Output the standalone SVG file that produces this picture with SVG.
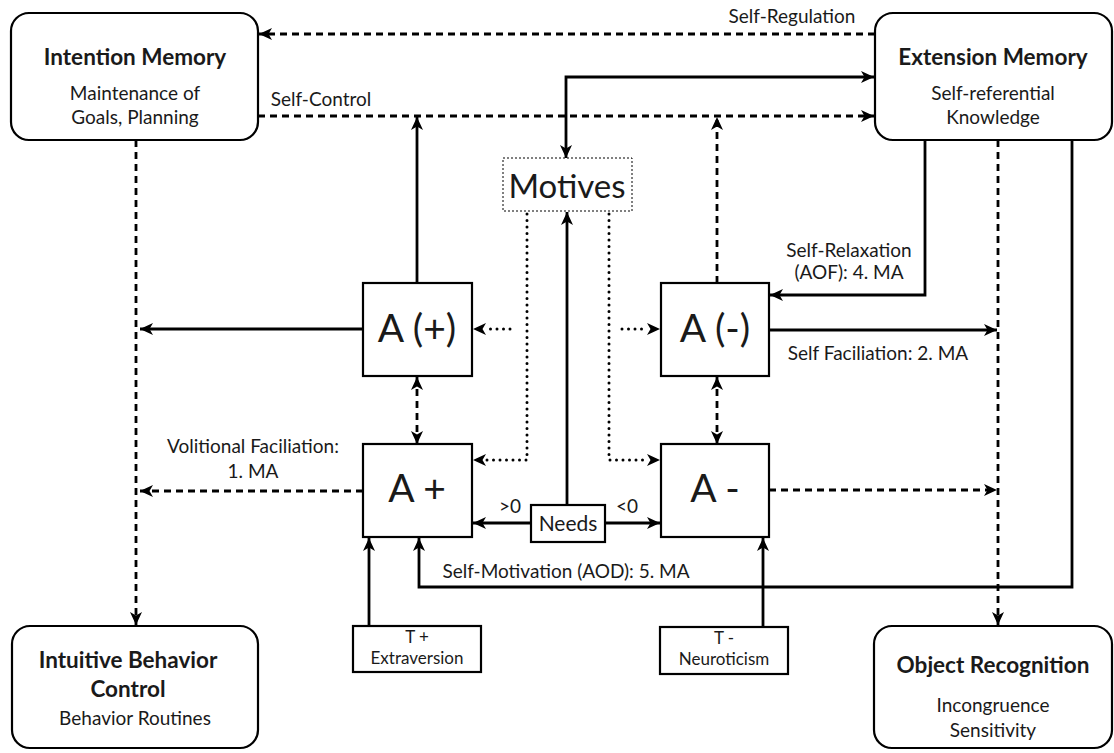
<svg xmlns="http://www.w3.org/2000/svg" width="1114" height="753" viewBox="0 0 1114 753">
<style>
text{font-family:Lato,"Open Sans","Liberation Sans",sans-serif;fill:#1a1a1a;text-anchor:middle}
.t{font-size:22.5px;font-weight:bold}
.s{font-size:19px}
.l{font-size:19px}
.tt{font-size:17px}
.big{font-size:39px}
.node{fill:#fff;stroke:#000;stroke-width:2.2}
.c{fill:none;stroke:#000;stroke-width:2.8}
.d{stroke-dasharray:7 5}
.o{stroke-dasharray:0 6.5;stroke-linecap:round;stroke-width:3}
.e{marker-end:url(#ah)}
.b{marker-start:url(#ahs);marker-end:url(#ah)}
</style>
<defs>
<marker id="ah" markerUnits="userSpaceOnUse" markerWidth="14" markerHeight="12" refX="13" refY="6" orient="auto"><path d="M0,0 L13,6 L0,12 L3.5,6 Z" fill="#000"/></marker>
<marker id="ahs" markerUnits="userSpaceOnUse" markerWidth="14" markerHeight="12" refX="13" refY="6" orient="auto-start-reverse"><path d="M0,0 L13,6 L0,12 L3.5,6 Z" fill="#000"/></marker>
</defs>
<rect width="1114" height="753" fill="#fff"/>

<g id="connectors">
<path class="c d e" d="M875,34 L259,34"/>
<path class="c d e" d="M258,116 L874,116"/>
<path class="c b" d="M566,158 L566,77 L874,77"/>
<path class="c e" d="M417,283 L417,117"/>
<path class="c d e" d="M717,283 L717,117"/>
<path class="c e" d="M363,329 L140,329"/>
<path class="c d e" d="M363,491 L140,491"/>
<path class="c e" d="M769,330 L997,330"/>
<path class="c d e" d="M769,490 L997,490"/>
<path class="c e" d="M925,140 L925,295 L770,295"/>
<path class="c d e" d="M998,140 L998,625"/>
<path class="c e" d="M1072,140 L1072,587 L419,587 L419,538"/>
<path class="c d e" d="M136,140 L136,625"/>
<path class="c d b" d="M417,377 L417,444"/>
<path class="c d b" d="M717,377 L717,444"/>
<path class="c e" d="M567,505 L567,212"/>
<path class="c e" d="M531,523 L473,523"/>
<path class="c e" d="M605,523 L660,523"/>
<path class="c e" d="M369,626 L369,538"/>
<path class="c e" d="M763,627 L763,538"/>
<path class="c o" d="M527,214 L527,460 L485,460"/>
<path class="c e" style="stroke:none" d="M485,460 L473,460"/>
<path class="c o" d="M510,329 L485,329"/>
<path class="c e" style="stroke:none" d="M485,329 L473,329"/>
<path class="c o" d="M609,214 L609,460 L648,460"/>
<path class="c e" style="stroke:none" d="M648,460 L660,460"/>
<path class="c o" d="M622,329 L648,329"/>
<path class="c e" style="stroke:none" d="M648,329 L660,329"/>
</g>

<g id="labels">
<text class="l" x="792" y="23">Self-Regulation</text>
<text class="l" x="321" y="106">Self-Control</text>
<text class="l" x="849" y="257">Self-Relaxation</text>
<text class="l" x="849" y="279">(AOF): 4. MA</text>
<text class="l" x="878" y="360">Self Faciliation: 2. MA</text>
<text class="l" x="253" y="453">Volitional Faciliation:</text>
<text class="l" x="253" y="478">1. MA</text>
<text class="l" x="566" y="578">Self-Motivation (AOD): 5. MA</text>
<text class="l" x="510" y="513">&gt;0</text>
<text class="l" x="627" y="513">&lt;0</text>
</g>

<g id="intention-memory">
<rect class="node" x="11" y="13" width="247" height="127" rx="18"/>
<text class="t" x="135" y="65">Intention Memory</text>
<text class="s" x="135" y="100">Maintenance of</text>
<text class="s" x="135" y="124">Goals, Planning</text>
</g>

<g id="extension-memory">
<rect class="node" x="875" y="13" width="237" height="127" rx="18"/>
<text class="t" x="993" y="65">Extension Memory</text>
<text class="s" x="993" y="100">Self-referential</text>
<text class="s" x="993" y="124">Knowledge</text>
</g>

<g id="intuitive-behavior-control">
<rect class="node" x="12" y="626" width="246" height="122" rx="18"/>
<text class="t" x="128" y="668">Intuitive Behavior</text>
<text class="t" x="128" y="697">Control</text>
<text class="s" x="135" y="725">Behavior Routines</text>
</g>

<g id="object-recognition">
<rect class="node" x="874" y="626" width="238" height="122" rx="18"/>
<text class="t" x="993" y="673">Object Recognition</text>
<text class="s" x="993" y="712">Incongruence</text>
<text class="s" x="993" y="737">Sensitivity</text>
</g>

<g id="motives">
<rect x="503" y="158" width="129" height="53" fill="#fff" stroke="#000" stroke-width="1" stroke-dasharray="2 2"/>
<text x="567" y="198" style="font-size:33px">Motives</text>
</g>

<g id="a-plus-paren">
<rect class="node" x="363" y="283" width="109" height="93"/>
<text class="big" x="417" y="342">A (+)</text>
</g>

<g id="a-minus-paren">
<rect class="node" x="661" y="283" width="108" height="93"/>
<text class="big" x="715" y="342">A (-)</text>
</g>

<g id="a-plus">
<rect class="node" x="363" y="444" width="109" height="93"/>
<text class="big" x="417" y="502">A +</text>
</g>

<g id="a-minus">
<rect class="node" x="661" y="444" width="108" height="93"/>
<text class="big" x="715" y="502">A -</text>
</g>

<g id="needs">
<rect class="node" x="531" y="505" width="74" height="37" stroke-width="1.5"/>
<text x="568" y="531" style="font-size:21px">Needs</text>
</g>

<g id="t-plus">
<rect class="node" x="353" y="626" width="128" height="46"/>
<text class="tt" x="417" y="643">T +</text>
<text class="tt" x="417" y="664">Extraversion</text>
</g>

<g id="t-minus">
<rect class="node" x="660" y="627" width="128" height="47"/>
<text class="tt" x="724" y="644">T -</text>
<text class="tt" x="724" y="665">Neuroticism</text>
</g>
</svg>
